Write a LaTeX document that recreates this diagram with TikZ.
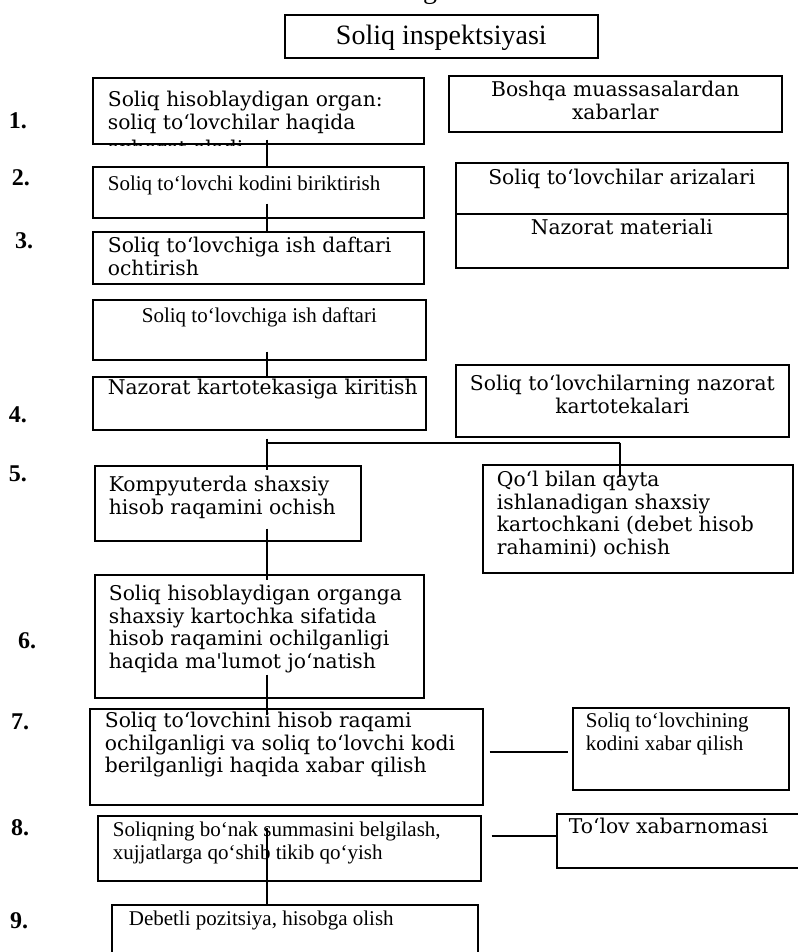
\documentclass[tikz,border=0pt]{standalone}
\usepackage{fontspec}
\setmainfont{Liberation Serif}
\newfontfamily\bkfont{DejaVu Serif}
\usetikzlibrary{positioning,calc}

% box text pinned to the top of the frame
\newcommand{\txtl}[5][15]{\parbox[t][#3pt][t]{#2pt}{\vspace*{#4pt}\leftskip=#1pt\rightskip=0pt plus 1fil\strut#5\par}}
\newcommand{\txtc}[4]{\parbox[t][#2pt][t]{#1pt}{\vspace*{#3pt}\centering\strut#4\par}}

\begin{document}
\begin{tikzpicture}[
  x=1pt,y=-1pt,
  blk/.style={draw,line width=1.7pt,inner sep=0pt,anchor=north west},
  bk/.style={font=\bkfont\fontsize{20.3}{22.5}\selectfont},
  tm/.style={font=\fontsize{21}{23}\selectfont},
  title/.style={font=\fontsize{28}{30}\selectfont},
  num/.style={font=\bfseries\fontsize{24}{24}\selectfont,inner sep=0pt},
  link/.style={line width=1.7pt}
]
  \useasboundingbox (0,0) rectangle (797,952);
  \coordinate (spine) at (267,0);

  \node[title,anchor=base] (cut) at (430,-1) {g};
  \node[blk,title] (insp) at (284,14) {\txtc{313}{43}{9}{Soliq inspektsiyasi}};

  % left column
  \node[blk,bk] (org) at (92,77) {\txtl{331}{66}{13}{Soliq hisoblaydigan organ:\\ soliq to‘lovchilar haqida\\[3.5pt] axborot oladi}};
  \fill[white] ([shift={(1.2,0.9)}]org.south west) rectangle ([shift={(-1.2,18)}]org.south east);
  \node[blk,tm] (code) at (92,166) {\txtl{331}{51}{8}{Soliq to‘lovchi kodini biriktirish}};
  \node[blk,bk] (open) at (92,231) {\txtl{331}{52}{5}{Soliq to‘lovchiga ish daftari\\ ochtirish}};
  \node[blk,tm] (book) at (92,299) {\txtc{333}{60}{7}{Soliq to‘lovchiga ish daftari}};
  \node[blk,bk] (enter) at (92,376) {\txtl{333}{53}{2}{Nazorat kartotekasiga kiritish}};
  \node[blk,bk] (pc) at (94,465) {\txtl[14]{266}{75}{10}{Kompyuterda shaxsiy\\ hisob raqamini ochish}};
  \node[blk,bk] (inform) at (94,574) {\txtl[14]{329}{123}{10}{Soliq hisoblaydigan organga\\ shaxsiy kartochka sifatida\\ hisob raqamini ochilganligi\\ haqida ma'lumot jo‘natish}};
  \node[blk,bk] (notify) at (89,708) {\txtl{393}{96}{3}{Soliq to‘lovchini hisob raqami\\ ochilganligi va soliq to‘lovchi kodi\\ berilganligi haqida xabar qilish}};
  \node[blk,tm] (advance) at (97,815) {\txtl{383}{65}{5}{Soliqning bo‘nak summasini belgilash,\\ xujjatlarga qo‘shib tikib qo‘yish}};
  \node[blk,tm] (debit) at (111,904) {\txtl[17]{366}{60}{5}{Debetli pozitsiya, hisobga olish}};

  % right column
  \node[blk,bk] (other) at (448,75) {\txtc{333}{56}{5}{Boshqa muassasalardan\\ xabarlar}};
  \node[blk,bk] (apply) at (455,162) {\txtc{332}{51}{6}{Soliq to‘lovchilar arizalari}};
  \node[blk,bk] (mater) at (455,213) {\txtc{332}{54}{5}{Nazorat materiali}};
  \node[blk,bk] (files) at (455,364) {\txtc{333}{72}{10}{Soliq to‘lovchilarning nazorat\\ kartotekalari}};
  \node[blk,bk] (hand) at (482,464) {\txtl[14]{310}{108}{6}{Qo‘l bilan qayta\\ ishlanadigan shaxsiy\\ kartochkani (debet hisob\\ rahamini) ochish}};
  \node[blk,tm] (codemsg) at (572,707) {\txtl[13]{216}{82}{4}{Soliq to‘lovchining\\ kodini xabar qilish}};
  \node[blk,bk] (notice) at (556,813) {\txtl[12]{250}{54}{4}{To‘lov xabarnomasi}};

  % step numbers
  \node[num] (n1) at (18,121) {1.};
  \node[num] (n2) at (21,178) {2.};
  \node[num] (n3) at (24,241) {3.};
  \node[num] (n4) at (18,415) {4.};
  \node[num] (n5) at (18,474) {5.};
  \node[num] (n6) at (27,641) {6.};
  \node[num] (n7) at (20,722) {7.};
  \node[num] (n8) at (20,828) {8.};
  \node[num] (n9) at (19,921) {9.};

  % links
  \draw[link,shorten <=-5pt,shorten >=-2pt] (org.south -| spine) -- (code.north -| spine);
  \draw[link,shorten <=-15pt] (code.south -| spine) -- (open.north -| spine);
  \draw[link,shorten <=-9pt] (book.south -| spine) -- (enter.north -| spine);
  \coordinate (tl) at ($(enter.south -| spine)+(0,12)$);
  \coordinate (tr) at ($(tl)+(353,0)$);
  \draw[link] (tl) -- (tr);
  \draw[link,shorten <=-4pt,shorten >=-5pt] (tl) -- (tl |- pc.north);
  \draw[link,shorten >=-13pt] (tr) -- (tr |- hand.north);
  \draw[link,shorten <=-13pt,shorten >=-6pt] (pc.south -| spine) -- (inform.north -| spine);
  \draw[link,shorten <=-24pt,shorten >=-7pt] (inform.south -| spine) -- (notify.north -| spine);
  \draw[link,shorten <=6pt,shorten >=4pt] ([yshift=5pt]notify.east) -- ([yshift=5pt]notify.east -| codemsg.west);
  \draw[link,shorten <=10pt] ([yshift=12.5pt]advance.east) -- ([yshift=12.5pt]advance.east -| notice.west);
  \draw[link,shorten <=13pt] (advance.north -| spine) -- (debit.north -| spine);
\end{tikzpicture}
\end{document}
